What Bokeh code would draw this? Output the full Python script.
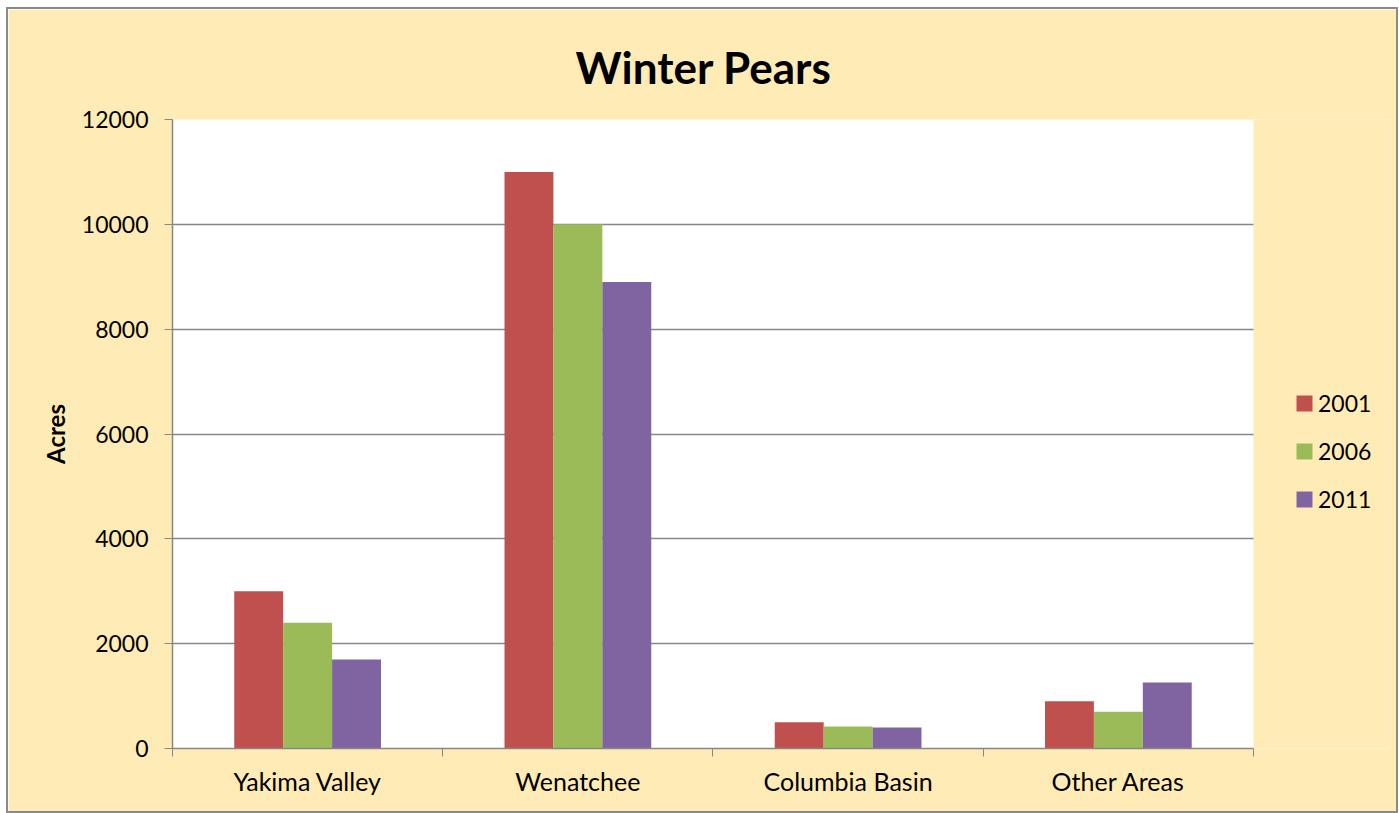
from bokeh.plotting import figure
from bokeh.models import Range1d, FixedTicker, Legend, LegendItem, ColumnDataSource, BoxAnnotation
from bokeh.transform import dodge
from bokeh.embed import file_html
from bokeh.resources import INLINE

categories = ["Yakima Valley", "Wenatchee", "Columbia Basin", "Other Areas"]
years = ["2001", "2006", "2011"]
v2001 = [3000, 11000, 500, 900]
v2006 = [2400, 10000, 420, 700]
v2011 = [1700, 8900, 400, 1260]
colors = ["#C0504D", "#9BBB59", "#8064A2"]
y_ticks = [0, 2000, 4000, 6000, 8000, 10000, 12000]

FONT = "Lato"
GRAY = "#878787"
BG = "#FFEBB6"

ncat = len(categories)
xpos = [i + 0.5 for i in range(ncat)]
src = ColumnDataSource(dict(x=xpos, v2001=v2001, v2006=v2006, v2011=v2011))

# frame extends to the right to host the legend; plot area is 0..ncat
p = figure(width=1392, height=806,
           output_backend="svg", toolbar_location=None,
           x_range=Range1d(0, 4.507), y_range=Range1d(0, 12000),
           min_border_left=164, min_border_right=10, min_border_top=110, min_border_bottom=67)
p.margin = (7, 0, 0, 6)
p.border_fill_color = BG
p.background_fill_color = BG
p.outline_line_color = None
p.styles = {"border": "2px solid #8a8a8a"}

area = BoxAnnotation(left=0, right=ncat, bottom=0, top=12000, fill_color="white",
                     fill_alpha=1, line_color=None, level="image")
p.add_layout(area)

p.title.text = "Winter Pears"
p.title.align = "left"
p.title.offset = 403
p.title.text_font = FONT
p.title.text_font_size = "44px"
p.title.text_font_style = "bold"
p.title.text_color = "black"
p.title.standoff = 54

bw = 0.181
renderers = []
for k, (yr, col) in enumerate(zip(years, colors)):
    r = p.vbar(x=dodge("x", (k - 1) * bw, range=p.x_range), top="v" + yr, width=bw,
               bottom=0, source=src, fill_color=col, line_color=None)
    renderers.append(r)

legend = Legend(items=[LegendItem(label=yr, renderers=[r]) for yr, r in zip(years, renderers)],
                location=(1122, 235), padding=0, margin=0, spacing=20,
                glyph_width=20, glyph_height=20, label_height=20, label_standoff=4,
                label_text_font=FONT, label_text_font_size="23px", label_text_color="black",
                background_fill_alpha=0, border_line_color=None)
p.add_layout(legend, "center")

# x axis
p.xaxis.bounds = (0, ncat)
p.xaxis.ticker = FixedTicker(ticks=xpos, minor_ticks=list(range(ncat + 1)))
p.xaxis.major_label_overrides = {x: c for x, c in zip(xpos, categories)}
p.xaxis.major_tick_line_color = None
p.xaxis.minor_tick_line_color = GRAY
p.xaxis.minor_tick_out = 8
p.xaxis.minor_tick_in = 0
p.xaxis.axis_line_color = GRAY
p.xaxis.axis_line_width = 1.5
p.xaxis.major_label_text_font = FONT
p.xaxis.major_label_text_font_size = "25px"
p.xaxis.major_label_text_color = "black"
p.xaxis.major_label_standoff = 9
p.xgrid.grid_line_color = None

# y axis
p.yaxis.ticker = FixedTicker(ticks=y_ticks)
p.yaxis.minor_tick_line_color = None
p.yaxis.major_tick_line_color = GRAY
p.yaxis.major_tick_out = 8
p.yaxis.major_tick_in = 0
p.yaxis.axis_line_color = GRAY
p.yaxis.axis_line_width = 1.5
p.yaxis.major_label_text_font = FONT
p.yaxis.major_label_text_font_size = "23px"
p.yaxis.major_label_text_color = "black"
p.yaxis.major_label_standoff = 16
p.yaxis.axis_label = "Acres"
p.yaxis.axis_label_text_font = FONT
p.yaxis.axis_label_text_font_size = "24px"
p.yaxis.axis_label_text_font_style = "bold"
p.yaxis.axis_label_text_color = "black"
p.yaxis.axis_label_standoff = 9
p.ygrid.grid_line_color = GRAY
p.ygrid.grid_line_width = 1.5
p.ygrid.cross_bounds = (0, ncat)

open("out.html", "w").write(file_html(p, INLINE))
